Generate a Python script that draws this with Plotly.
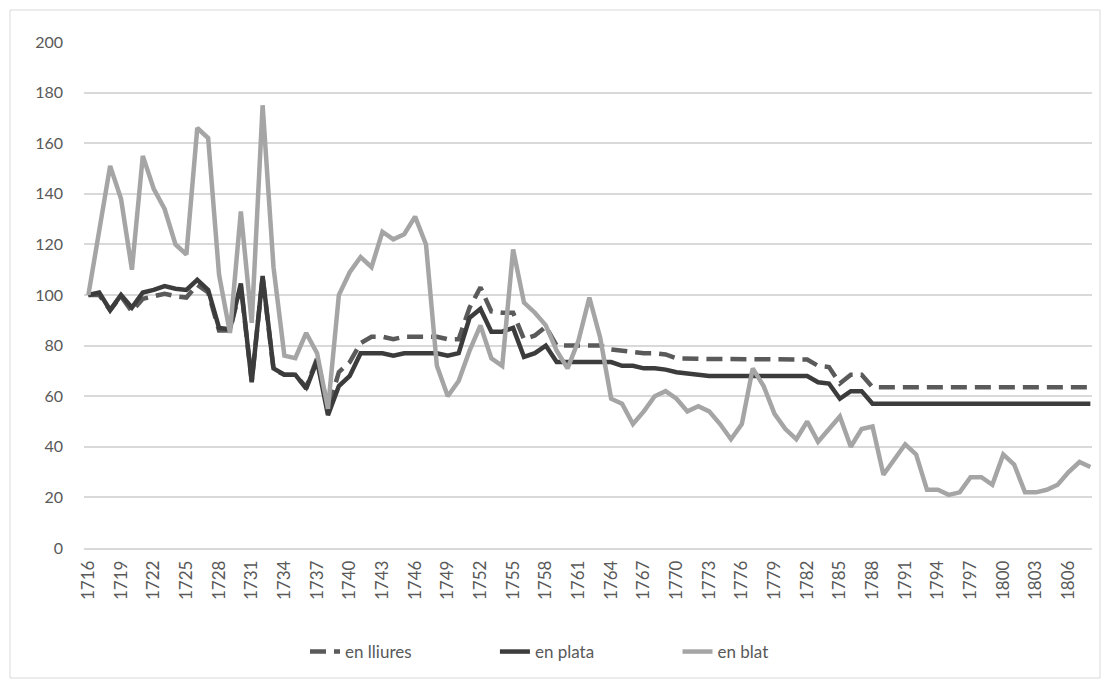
import plotly.graph_objects as go

years = list(range(1716, 1809))

en_lliures = [
    100, 100, 94, 99.5, 93.5, 98.5, 99.5, 100.5, 99.5, 99,
    104, 101, 86, 86, 103.5, 66, 107, 70.5, 68.5, 68.5,
    63.5, 75, 55, 69.5, 73.5, 81, 83.5, 83.5, 82.5, 83.5,
    83.5, 83.5, 83.5, 82.5, 82.5, 95, 103, 93.5, 93, 93,
    82.5, 84, 87.5, 80, 80, 80, 80, 80, 78.5, 78,
    77.5, 77, 77, 76.5, 75, 74.8, 74.7, 74.7, 74.7, 74.7,
    74.7, 74.7, 74.7, 74.7, 74.7, 74.7, 74.5, 72, 71.5, 65,
    68.5, 68.5, 63.5, 63.5, 63.5, 63.5, 63.5, 63.5, 63.5, 63.5,
    63.5, 63.5, 63.5, 63.5, 63.5, 63.5, 63.5, 63.5, 63.5, 63.5,
    63.5, 63.5, 63.5,
]

en_plata = [
    100, 101, 94, 100, 95, 101, 102, 103.5, 102.5, 102,
    106, 102, 87, 86.5, 104.5, 65.5, 107.5, 71, 68.5, 68.5,
    63, 74, 52.5, 64, 68, 77, 77, 77, 76, 77,
    77, 77, 77, 76, 77, 91, 94.5, 85.5, 85.5, 87,
    75.5, 77, 80, 73.5, 73.5, 73.5, 73.5, 73.5, 73.5, 72,
    72, 71, 71, 70.5, 69.5, 69, 68.5, 68, 68, 68,
    68, 68, 68, 68, 68, 68, 68, 65.5, 65, 59,
    62, 62, 57, 57, 57, 57, 57, 57, 57, 57,
    57, 57, 57, 57, 57, 57, 57, 57, 57, 57,
    57, 57, 57,
]

en_blat = [
    100, 125, 151, 138, 110, 155, 142, 134, 120, 116,
    166, 162, 108, 85, 133, 89, 175, 111, 76, 75,
    85, 77, 55, 100, 109, 115, 111, 125, 122, 124,
    131, 120, 72, 60, 66, 78, 88, 75, 72, 118,
    97, 93, 88, 78, 71, 82, 99, 83, 59, 57,
    49, 54, 60, 62, 59, 54, 56, 54, 49, 43,
    49, 71, 64, 53, 47, 43, 50, 42, 47, 52,
    40, 47, 48, 29, 35, 41, 37, 23, 23, 21,
    22, 28, 28, 25, 37, 33, 22, 22, 23, 25,
    30, 34, 32,
]

series_names = ["en lliures", "en plata", "en blat"]

y_ticks = [0, 20, 40, 60, 80, 100, 120, 140, 160, 180, 200]
x_ticks = years[::3]

font_family = "Lato, 'Open Sans', sans-serif"
text_color = "#595959"

W, H = 1102, 674
L, R, T, B = 76, 18, 34, 134
PW = W - L - R
PH = H - T - B

NB = "\u00a0"
pad = NB * 18

fig = go.Figure()
fig.add_trace(go.Scatter(
    x=years, y=en_lliures, name=series_names[0] + pad, mode="lines",
    line=dict(color="#5a5a5a", width=4.5, dash="16px,8px"),
))
fig.add_trace(go.Scatter(
    x=years, y=en_plata, name=series_names[1] + pad, mode="lines",
    line=dict(color="#3c3c3c", width=4.5),
))
fig.add_trace(go.Scatter(
    x=years, y=en_blat, name=series_names[2], mode="lines",
    line=dict(color="#a5a5a5", width=4.5),
))

fig.update_layout(
    width=W, height=H,
    margin=dict(l=L, r=R, t=T, b=B),
    paper_bgcolor="white", plot_bgcolor="white",
    font=dict(family=font_family, size=16, color=text_color),
    showlegend=True,
    legend=dict(
        orientation="h", x=(297 - L) / PW, xanchor="left",
        y=(540 - 644) / PH, yanchor="middle",
        font=dict(size=17, color=text_color),
        traceorder="normal",
    ),
    xaxis=dict(
        range=[1715.6, 1808.15], tickmode="array", tickvals=x_ticks,
        ticktext=[str(v) for v in x_ticks], tickangle=-90,
        showgrid=False, zeroline=False, showline=True, linecolor="#d9d9d9",
        linewidth=1.5, ticks="", tickfont=dict(size=17, color=text_color),
        ticklabelstandoff=4,
    ),
    yaxis=dict(
        range=[0, 200], tickmode="array", tickvals=y_ticks,
        showgrid=True, gridcolor="#d9d9d9", gridwidth=1.5, zeroline=False,
        showline=False, ticks="", tickfont=dict(size=16, color=text_color),
        ticklabelstandoff=20,
    ),
    shapes=[dict(
        type="rect", xref="paper", yref="paper",
        x0=(2 - L) / PW, x1=(1092 - L) / PW,
        y0=(540 - 670) / PH, y1=(540 - 2) / PH,
        line=dict(color="#d9d9d9", width=1), fillcolor="rgba(0,0,0,0)",
        layer="below",
    )],
)

fig.write_html("out.html")
